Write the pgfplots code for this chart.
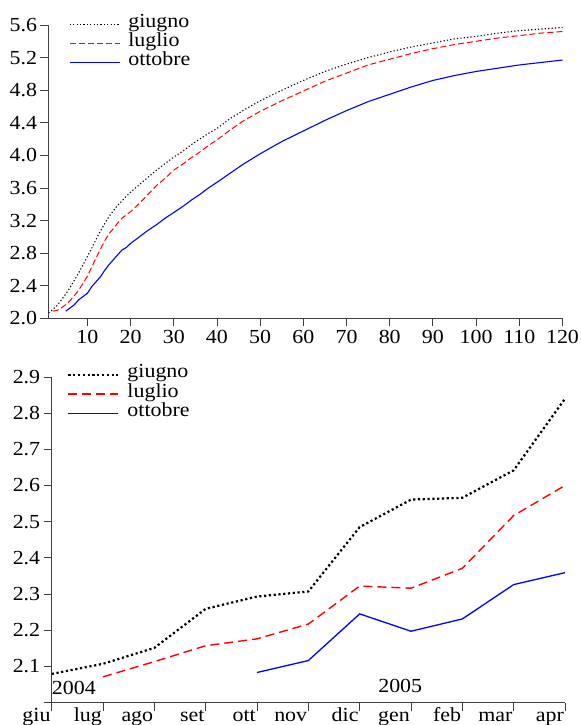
\documentclass[border=0pt]{standalone}
\usepackage{pgfplots}
\pgfplotsset{compat=1.18}
\usepackage{fontspec}
\setmainfont{Liberation Serif}[FakeStretch=1.1]

\pgfplotstableread{
x black red
1 2.07 nan
2 2.11 2.09
3 2.16 2.10
4 2.23 2.13
5 2.30 2.17
6 2.38 2.22
7 2.47 2.28
8 2.56 2.35
9 2.66 2.43
10 2.76 2.52
11 2.86 2.63
12 2.97 2.74
13 3.07 2.85
14 3.16 2.95
15 3.25 3.04
16 3.32 3.10
17 3.39 3.17
18 3.44 3.23
19 3.50 3.27
20 3.55 3.31
22 3.64 3.41
24 3.73 3.52
26 3.82 3.63
28 3.90 3.72
30 3.98 3.82
32 4.05 3.89
34 4.13 3.97
36 4.20 4.04
38 4.27 4.12
40 4.33 4.19
43 4.45 4.31
46 4.55 4.42
50 4.67 4.54
55 4.80 4.67
60 4.92 4.79
65 5.03 4.91
70 5.12 5.01
75 5.20 5.11
80 5.27 5.18
85 5.33 5.25
90 5.38 5.31
95 5.43 5.36
100 5.46 5.40
105 5.50 5.44
110 5.53 5.47
115 5.55 5.50
120 5.57 5.52
}\topdata

\pgfplotstableread{
x blue
5 2.09
6 2.13
7 2.17
8 2.23
9 2.27
10 2.31
11 2.39
12 2.45
13 2.51
14 2.59
15 2.66
16 2.72
17 2.78
18 2.84
19 2.87
20 2.92
22 3.00
24 3.08
26 3.15
28 3.23
30 3.30
32 3.37
34 3.45
36 3.52
38 3.60
40 3.67
43 3.78
46 3.89
50 4.02
55 4.17
60 4.30
65 4.43
70 4.55
75 4.66
80 4.75
85 4.84
90 4.92
95 4.98
100 5.03
105 5.07
110 5.11
115 5.14
120 5.17
}\topblue

\pgfplotstableread{
x giugno luglio ottobre
0 2.079 nan nan
1 2.107 2.071 nan
2 2.151 2.113 nan
3 2.259 2.157 nan
4 2.293 2.176 2.083
5 2.307 2.217 2.116
6 2.485 2.322 2.245
7 2.561 2.316 2.197
8 2.566 2.371 2.231
9 2.642 2.517 2.326
10 2.840 2.600 2.359
}\bottomdata

\begin{document}
\begin{tikzpicture}
\useasboundingbox (0bp,0bp) rectangle (581bp,725bp);
\pgfplotsset{
  every axis/.append style={
    scale only axis, axis lines*=left, tick align=outside,
    axis line style={black!75, line width=0.9bp},
    every tick/.style={black!75, line width=0.9bp},
    major tick length=8bp,
    tick label style={font=\fontsize{20}{22}\selectfont},
    /pgf/number format/assume math mode=true,
    unbounded coords=jump,
    legend style={draw=none, fill=none, font=\fontsize{20}{22}\selectfont,
      legend cell align=left, row sep=0bp, anchor=north west, inner sep=0pt},
    legend image code/.code={\draw[#1] (0bp,-3bp) -- (50bp,-3bp); \path (56bp,0bp);},
  }
}
\begin{axis}[at={(48.5bp,406.5bp)}, anchor=south west, width=514bp, height=293.5bp,
  xmin=1, xmax=120, ymin=2, ymax=5.6,
  xtick={10,20,30,40,50,60,70,80,90,100,110,120},
  ytick={2.0,2.4,2.8,3.2,3.6,4.0,4.4,4.8,5.2,5.6},
  yticklabel style={/pgf/number format/.cd, fixed, fixed zerofill, precision=1},
  legend style={at={(axis description cs:0.04,1.045)}}]
\addplot[black, line width=1.1bp, dash pattern=on 1.2bp off 2.2bp] table[x=x,y=black] {\topdata};
\addplot[red, line width=1bp, dash pattern=on 6bp off 3bp] table[x=x,y=red] {\topdata};
\addplot[blue, line width=1.1bp] table[x=x,y=blue] {\topblue};
\legend{giugno,luglio,ottobre}
\end{axis}

\begin{axis}[at={(51.7bp,22.5bp)}, anchor=south west, width=513.3bp, height=325.5bp,
  xmin=0, xmax=10, ymin=2.0, ymax=2.9,
  xtick={0,1,2,3,4,5,6,7,8,9,10},
  xticklabels={giu,lug,ago,set,ott,nov,dic,gen,feb,mar,apr},
  xticklabel style={anchor=base east, inner xsep=1bp, yshift=-11bp},
  ytick={2.0,2.1,2.2,2.3,2.4,2.5,2.6,2.7,2.8,2.9},
  yticklabels={{},2.1,2.2,2.3,2.4,2.5,2.6,2.7,2.8,2.9},
  legend style={at={(axis description cs:0.03,1.045)}}]
\addplot[black, line width=2.2bp, dash pattern=on 2.2bp off 2.6bp] table[x=x,y=giugno] {\bottomdata};
\addplot[red, line width=1.4bp, dash pattern=on 9bp off 5bp] table[x=x,y=luglio] {\bottomdata};
\addplot[blue, line width=1.3bp] table[x=x,y=ottobre] {\bottomdata};
\legend{giugno,luglio,ottobre}
\node[anchor=west, inner sep=0pt, font=\fontsize{20}{22}\selectfont] at (axis cs:0,2.041) {2004};
\node[inner sep=0pt, font=\fontsize{20}{22}\selectfont] at (axis cs:6.79,2.045) {2005};
\end{axis}
\end{tikzpicture}
\end{document}
